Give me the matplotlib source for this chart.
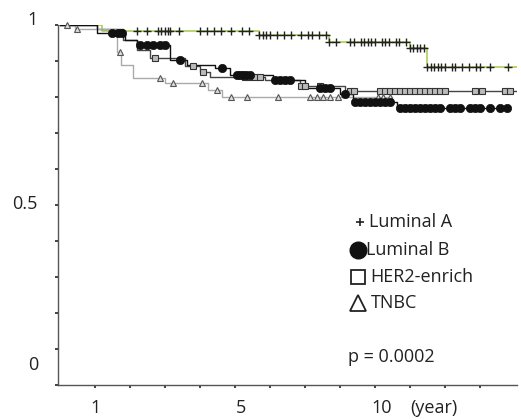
import numpy as np
import matplotlib.pyplot as plt
from matplotlib.lines import Line2D

plt.rcParams['font.family'] = ['Open Sans', 'DejaVu Sans']

# survival steps (years, survival)
lumA_t = [0, 1.2, 5.7, 7.7, 10.0, 10.5, 13.1]
lumA_s = [1.0, 0.983, 0.972, 0.953, 0.937, 0.882, 0.882]
lumA_cens = [2.2, 2.5, 2.8, 2.9, 3.0, 3.1, 3.15, 3.4, 4.0, 4.2, 4.4, 4.6, 4.9,
             5.2, 5.4, 5.7, 5.8, 5.9, 6.0, 6.2, 6.4, 6.6, 6.9, 7.1, 7.2, 7.4,
             7.6, 7.7, 7.9, 8.3, 8.4, 8.6, 8.7, 8.8, 8.9, 9.0, 9.2, 9.3, 9.4,
             9.6, 9.7, 9.9, 10.0, 10.1, 10.2, 10.3, 10.4, 10.5, 10.6, 10.7,
             10.8, 10.9, 11.0, 11.2, 11.3, 11.5, 11.7, 11.9, 12.0, 12.3, 12.8]

lumB_t = [0, 1.06, 1.86, 2.2, 3.14, 3.63, 4.43, 4.86, 6.09, 7.0, 8.0, 8.37, 9.63, 12.77]
lumB_s = [1.0, 0.978, 0.958, 0.944, 0.903, 0.889, 0.881, 0.861, 0.847, 0.825,
          0.808, 0.786, 0.769, 0.769]
lumB_cens = [1.5, 1.66, 1.77, 2.3, 2.5, 2.66, 2.86, 3.0, 3.43, 4.63, 5.06, 5.14,
             5.23, 5.31, 5.43, 6.14, 6.29, 6.43, 6.57, 7.43, 7.57, 7.71, 8.14,
             8.43, 8.57, 8.71, 8.86, 9.0, 9.14, 9.29, 9.43, 9.71, 9.86, 10.0,
             10.14, 10.29, 10.43, 10.57, 10.71, 10.86, 11.14, 11.29, 11.43,
             11.71, 11.86, 12.0, 12.29, 12.57, 12.77]

her2_t = [0, 1.06, 1.8, 2.2, 2.57, 3.57, 4.0, 4.29, 5.86, 6.86, 8.14, 13.1]
her2_s = [1.0, 0.99, 0.958, 0.931, 0.908, 0.886, 0.870, 0.856, 0.847, 0.831,
          0.817, 0.817]
her2_cens = [2.71, 3.8, 4.09, 5.29, 5.43, 5.57, 5.71, 6.9, 7.0, 7.43, 8.3, 8.4,
             9.14, 9.29, 9.43, 9.57, 9.71, 9.86, 10.0, 10.14, 10.29, 10.43,
             10.57, 10.71, 10.86, 11.0, 11.86, 12.06, 12.71, 12.86]

tnbc_t = [0, 0.43, 1.63, 1.75, 2.09, 3.0, 4.23, 4.63, 9.5]
tnbc_s = [1.0, 0.99, 0.925, 0.89, 0.853, 0.838, 0.819, 0.80, 0.80]
tnbc_cens = [0.2, 0.5, 1.71, 2.86, 3.23, 4.06, 4.49, 4.89, 5.34, 6.23, 7.14,
             7.34, 7.51, 7.71, 7.94, 9.09, 9.23, 9.43]

groups = [
    (lumA_t, lumA_s, lumA_cens, '#a9cf5a', 1.2, dict(marker='+', ms=6, mew=1.0, color='#222222')),
    (her2_t, her2_s, her2_cens, '#444444', 1.0, dict(marker='s', ms=4.5, mew=0.8, mfc='#bbbbbb', mec='#333333')),
    (tnbc_t, tnbc_s, tnbc_cens, '#aaaaaa', 1.0, dict(marker='^', ms=5, mew=0.8, mfc='#dddddd', mec='#555555')),
    (lumB_t, lumB_s, lumB_cens, '#111111', 1.0, dict(marker='o', ms=6, mew=0.5, mfc='#111111', mec='#111111')),
]

fig = plt.figure(figsize=(5.21, 4.2), dpi=100)
ax = fig.add_axes([58 / 521, 1 - 385 / 420, (517 - 58) / 521, 360 / 420])

for t, s, cens, lc, lw, mk in groups:
    ax.step(t, s, where='post', color=lc, lw=lw, zorder=2)
    idx = np.searchsorted(t, cens, side='right') - 1
    ys = np.array(s)[idx]
    ax.plot(cens, ys, ls='none', zorder=3, clip_on=False, **mk)

ax.set_xlim(-0.05, 13.06)
ax.set_ylim(0, 1.0)
for side in ['top', 'right']:
    ax.spines[side].set_visible(False)
for side in ['left', 'bottom']:
    ax.spines[side].set_color('#555555')
    ax.spines[side].set_linewidth(1.0)

ax.set_xticks(range(1, 13))
ax.set_xticklabels([])
ax.set_yticks(np.arange(0, 1.01, 0.1))
ax.set_yticklabels([])
ax.tick_params(direction='out', length=2.5, width=1.2, color='#222222')


def px(x, y):
    return x / 521, 1 - y / 420


fs = 13
# axis labels placed as in the original (not aligned with ticks)
for lab, x, y in [('1', 33, 20), ('0.5', 25, 204), ('0', 33, 365),
                  ('1', 96, 408), ('5', 241, 408), ('10', 382, 408),
                  ('(year)', 434, 408)]:
    fig.text(*px(x, y), lab, fontsize=fs, ha='center', va='center', color='#222222')

# legend
leg_names = ['Luminal A', 'Luminal B', 'HER2-enrich', 'TNBC']
leg_y = [222, 250, 277, 303]
leg_mx = [360, 358, 358, 358]
leg_tx = [369, 366, 370, 371]
leg_mk = [dict(marker='+', ms=6, mew=1.2, color='#222222'),
          dict(marker='o', ms=12, mfc='#111111', mec='#111111'),
          dict(marker='s', ms=9.5, mfc='white', mec='#222222', mew=1.3),
          dict(marker='^', ms=11, mfc='white', mec='#222222', mew=1.3)]
for name, y, mx, tx, mk in zip(leg_names, leg_y, leg_mx, leg_tx, leg_mk):
    fig.add_artist(Line2D([mx / 521], [1 - y / 420], ls='none', **mk))
    fig.text(*px(tx, y), name, fontsize=fs, ha='left', va='center', color='#222222')

fig.text(*px(348, 357), 'p = 0.0002', fontsize=fs, ha='left', va='center', color='#222222')

fig.savefig('out.png', dpi=100)
